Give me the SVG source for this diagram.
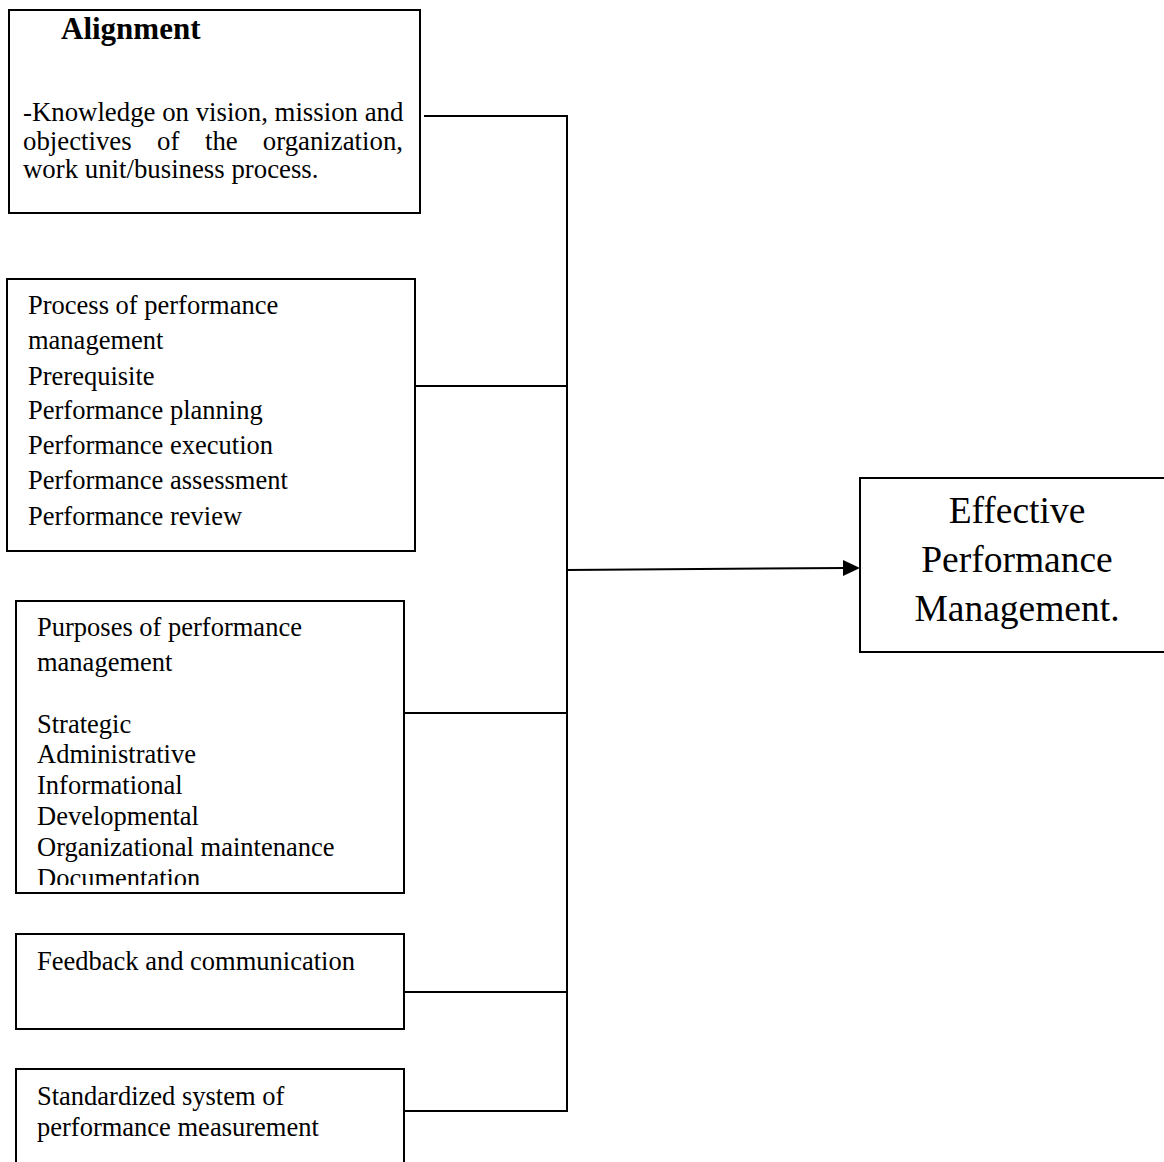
<svg xmlns="http://www.w3.org/2000/svg" width="1164" height="1162" viewBox="0 0 1164 1162">
<style>
.box{fill:#fff;stroke:#000;stroke-width:2}
.t{font-family:"Liberation Serif","Times New Roman",serif;font-size:26.5px;fill:#000}
.t1{font-family:"Liberation Serif","Times New Roman",serif;font-size:26.8px;fill:#000}
.h{font-family:"Liberation Serif","Times New Roman",serif;font-size:31px;font-weight:bold;fill:#000}
.big{font-family:"Liberation Serif","Times New Roman",serif;font-size:37.5px;fill:#000;text-anchor:middle}
.c{stroke:#000;stroke-width:2;fill:none}
</style>
<defs>
<clipPath id="clip3"><rect x="16" y="601" width="388" height="284"/></clipPath>
</defs>
<rect width="1164" height="1162" fill="#fff"/>
<g id="connectors">
<line class="c" x1="424" y1="116" x2="567" y2="116"/>
<line class="c" x1="415" y1="386" x2="567" y2="386"/>
<line class="c" x1="404" y1="713" x2="567" y2="713"/>
<line class="c" x1="404" y1="992" x2="567" y2="992"/>
<line class="c" x1="404" y1="1111" x2="567" y2="1111"/>
<line class="c" x1="567" y1="115" x2="567" y2="1112"/>
<line class="c" x1="567" y1="570" x2="846" y2="568"/>
<path d="M843,560 L860,568 L843,576 z" fill="#000"/>
</g>
<g id="node-alignment">
<rect class="box" x="9" y="10" width="411" height="203"/>
<text class="h" x="61" y="39">Alignment</text>
<text class="t1" x="23" y="121">-Knowledge on vision, mission and</text>
<text class="t1" y="150"><tspan x="23">objectives</tspan><tspan x="157">of</tspan><tspan x="205">the</tspan><tspan x="403" text-anchor="end">organization,</tspan></text>
<text class="t1" x="23" y="178">work unit/business process.</text>
</g>
<g id="node-process">
<rect class="box" x="7" y="279" width="408" height="272"/>
<text class="t" x="28" y="314">Process of performance</text>
<text class="t" x="28" y="349">management</text>
<text class="t" x="28" y="385">Prerequisite</text>
<text class="t" x="28" y="419">Performance planning</text>
<text class="t" x="28" y="454">Performance execution</text>
<text class="t" x="28" y="489">Performance assessment</text>
<text class="t" x="28" y="525">Performance review</text>
</g>
<g id="node-purposes">
<rect class="box" x="16" y="601" width="388" height="292"/>
<g clip-path="url(#clip3)">
<text class="t" x="37" y="636">Purposes of performance</text>
<text class="t" x="37" y="671">management</text>
<text class="t" x="37" y="733">Strategic</text>
<text class="t" x="37" y="763">Administrative</text>
<text class="t" x="37" y="794">Informational</text>
<text class="t" x="37" y="825">Developmental</text>
<text class="t" x="37" y="856">Organizational maintenance</text>
<text class="t" x="37" y="887">Documentation</text>
</g>
</g>
<g id="node-feedback">
<rect class="box" x="16" y="934" width="388" height="95"/>
<text class="t" x="37" y="970">Feedback and communication</text>
</g>
<g id="node-standardized">
<rect class="box" x="16" y="1069" width="388" height="140"/>
<text class="t" x="37" y="1105">Standardized system of</text>
<text class="t" x="37" y="1136">performance measurement</text>
</g>
<g id="node-effective">
<rect class="box" x="860" y="478" width="330" height="174"/>
<text class="big" x="1017" y="523">Effective</text>
<text class="big" x="1017" y="572">Performance</text>
<text class="big" x="1017" y="621">Management.</text>
</g>
</svg>
